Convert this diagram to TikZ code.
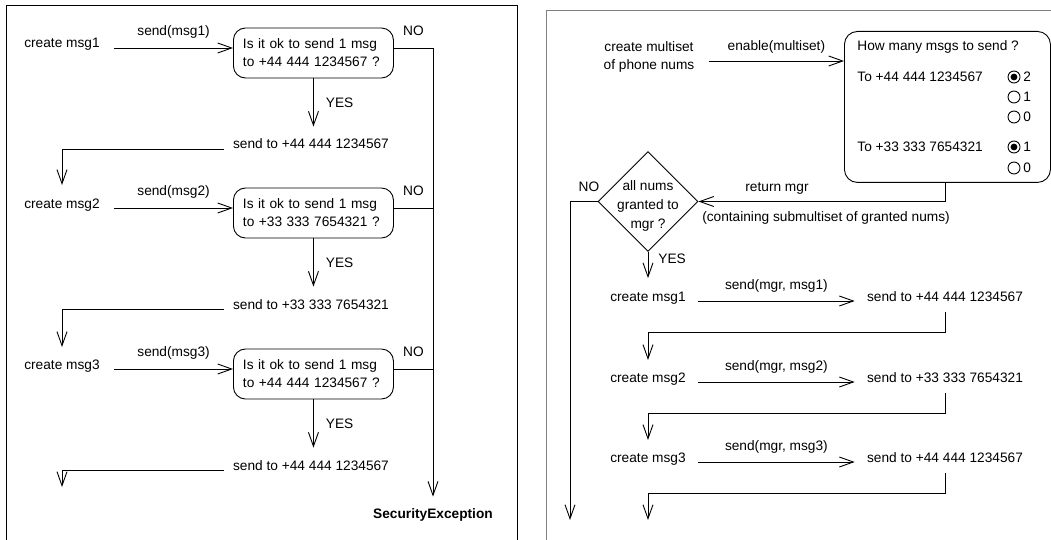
\documentclass[tikz,border=0pt]{standalone}
\usepackage{fontspec}
\setmainfont{Liberation Sans}
\usetikzlibrary{arrows.meta,shapes.geometric}

\begin{document}
\begin{tikzpicture}[x=1pt,y=-1pt,line width=0.9pt,
    every node/.style={font=\fontsize{13.7}{18}\selectfont,inner sep=0pt},
    flow/.style={-{Straight Barb[length=14pt,width=10pt]}},
    askbox/.style={draw,rounded corners=12pt,align=left,text width=141pt,
      minimum height=50pt,inner xsep=9.5pt}]
  \useasboundingbox (0,0) rectangle (1051,540);
  % frames
  \draw (6,540) -- (6,5) -- (517,5) -- (517,540);
  \draw[gray] (546,540) -- (546,10) -- (1051,10);

  % left: one check per message
  \node[font=\fontsize{13.7}{18}\selectfont\bfseries,anchor=base] (sec) at (433,518) {SecurityException};
  \foreach \i/\y/\phone in {1/48/+44 444 1234567,2/208/+33 333 7654321,3/369/+44 444 1234567} {
    \node[anchor=base] (c\i) at (62,\y) {create msg\i};
    \node[askbox,anchor=west] (q\i) at (233,\y+5) {Is it ok to send 1 msg\\to \phone\ ?};
    \node[anchor=base] (s\i) at (311,\y+101) {send to \phone};
    \draw[flow] ([xshift=14pt]c\i.base east) -- node[above=9.5pt] {send(msg\i)} (c\i.base -| q\i.west);
    \draw[flow] (q\i.south) -- node[right=12pt] {YES} ([yshift=12pt]s\i.north -| q\i.south);
    \draw (q\i.east |- c\i.base) -- node[above=12pt] {NO} (c\i.base -| sec.north);
  }
  \coordinate (out) at (62,487);
  \draw[flow] (c1.base -| sec.north) -- ([yshift=11pt]sec.north);
  \draw[flow] ([xshift=-9pt]s1.base west) -| ([yshift=13pt]c2.north);
  \draw[flow] ([xshift=-9pt]s2.base west) -| ([yshift=12pt]c3.north);
  \draw[flow] ([xshift=-9pt]s3.base west) -| (out);

  % right: one manager for the whole multiset
  \node[align=center] (ms) at (649,57) {create multiset\\of phone nums};
  \node[draw,rounded corners=13pt,minimum width=206pt,minimum height=151pt,anchor=north west] (mb) at (844,31) {};
  \draw[flow] ([xshift=14pt,yshift=-4pt]ms.east) -- node[above=7pt] {enable(multiset)} ([yshift=-4pt]ms.east -| mb.west);
  \node[anchor=base west] (ask) at (857,51) {How many msgs to send ?};
  \node[anchor=base west] (to1) at (857,81.5) {To +44 444 1234567};
  \node[anchor=base west] (to2) at (857,152) {To +33 333 7654321};
  \foreach \v/\y [count=\k] in {2/77,1/97,0/117,1/147,0/168} {
    \draw (1014,\y) circle[radius=6];
    \node[anchor=west] (r\k) at (1023,\y) {\v};
  }
  \foreach \y in {77,147} \fill (1014,\y) circle[radius=3.4];

  \node[diamond,draw,minimum size=100pt] (ok) at (648,201.5) {};
  \node[font=\fontsize{13.7}{19}\selectfont,align=center] (okt) at (648,206) {all nums\\granted to\\mgr ?};
  \draw[flow] ([xshift=-2pt]mb.south) |- (ok.east);
  \node[anchor=base] (ret) at (777,191) {return mgr};
  \node[anchor=base] (cont) at (826,221) {(containing submultiset of granted nums)};
  \coordinate (noend) at (570,520);
  \draw[flow] (ok.west) -| (noend);
  \node[anchor=base] (no) at (589,191) {NO};

  \foreach \i/\y/\phone in {1/301/+44 444 1234567,2/382/+33 333 7654321,3/462/+44 444 1234567} {
    \node[anchor=base] (m\i) at (648,\y) {create msg\i};
    \node[anchor=base] (t\i) at (945,\y) {send to \phone};
    \draw[flow] ([xshift=12pt]m\i.base east) -- node[above=8pt] {send(mgr, msg\i)} ([xshift=-12pt]t\i.base west);
  }
  \draw[flow] (ok.south) -- node[near start,right=10pt] {YES} ([yshift=13pt]m1.north);
  \coordinate (fin) at (648,520);
  \draw[flow] ([yshift=-11pt]t1.base) -- ++(0,20) -| ([yshift=12pt]m2.north);
  \draw[flow] ([yshift=-11pt]t2.base) -- ++(0,20) -| ([yshift=12pt]m3.north);
  \draw[flow] ([yshift=-11pt]t3.base) -- ++(0,20) -| (fin);
\end{tikzpicture}
\end{document}
